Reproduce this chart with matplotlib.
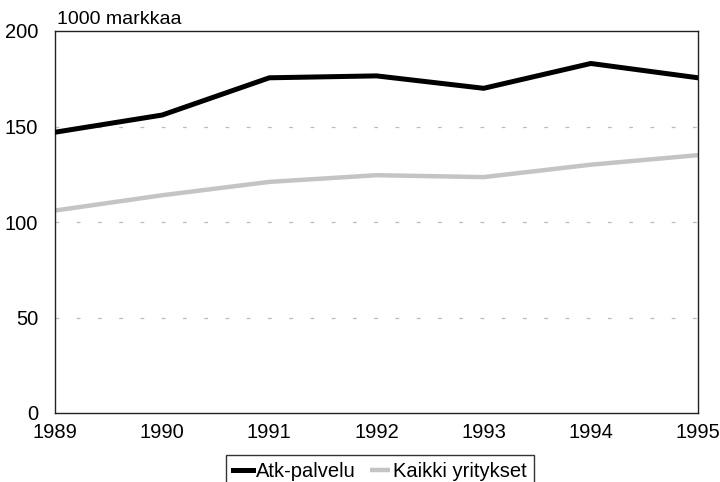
import matplotlib
matplotlib.use("Agg")
import matplotlib.pyplot as plt

years = [1989, 1990, 1991, 1992, 1993, 1994, 1995]
atk_palvelu = [147, 156, 175.5, 176.5, 170, 183, 175.5]
kaikki_yritykset = [106, 114, 121, 124.5, 123.5, 130, 135]
yticks = [0, 50, 100, 150, 200]

plt.rcParams['font.family'] = ['Liberation Sans', 'DejaVu Sans']

fig = plt.figure(figsize=(7.2, 4.82), dpi=100)
ax = fig.add_axes([55/720, 1-413/482, (698-55)/720, (413-31)/482])

for y in [50, 100, 150]:
    ax.axhline(y, color='#bbbbbb', lw=0.9, ls=(0, (3, 14)), zorder=1)

ax.plot(years, kaikki_yritykset, color='#c4c4c4', lw=3.2, label='Kaikki yritykset', zorder=2,
        solid_capstyle='butt')
ax.plot(years, atk_palvelu, color='black', lw=3.6, label='Atk-palvelu', zorder=3)

ax.set_xlim(1989, 1995)
ax.set_ylim(0, 200)
ax.set_yticks(yticks)
ax.set_xticks(years)
ax.tick_params(axis='both', length=0, labelsize=14.5)
ax.tick_params(axis='y', pad=12)
ax.tick_params(axis='x', pad=7)
for s in ax.spines.values():
    s.set_linewidth(1.0)
    s.set_color('#222222')

fig.text(57/720, 1-19/482, '1000 markkaa', fontsize=14, va='center', ha='left')

h, l = ax.get_legend_handles_labels()
leg = fig.legend([h[1], h[0]], [l[1], l[0]], loc='lower center',
                 bbox_to_anchor=(380/720, -16/482), ncol=2, fontsize=14.5,
                 frameon=True, fancybox=False, edgecolor='black',
                 handlelength=1.0, handletextpad=0.15, columnspacing=0.7,
                 borderpad=0.35)
leg.get_frame().set_linewidth(1.0)

fig.savefig('out.png', dpi=100)
